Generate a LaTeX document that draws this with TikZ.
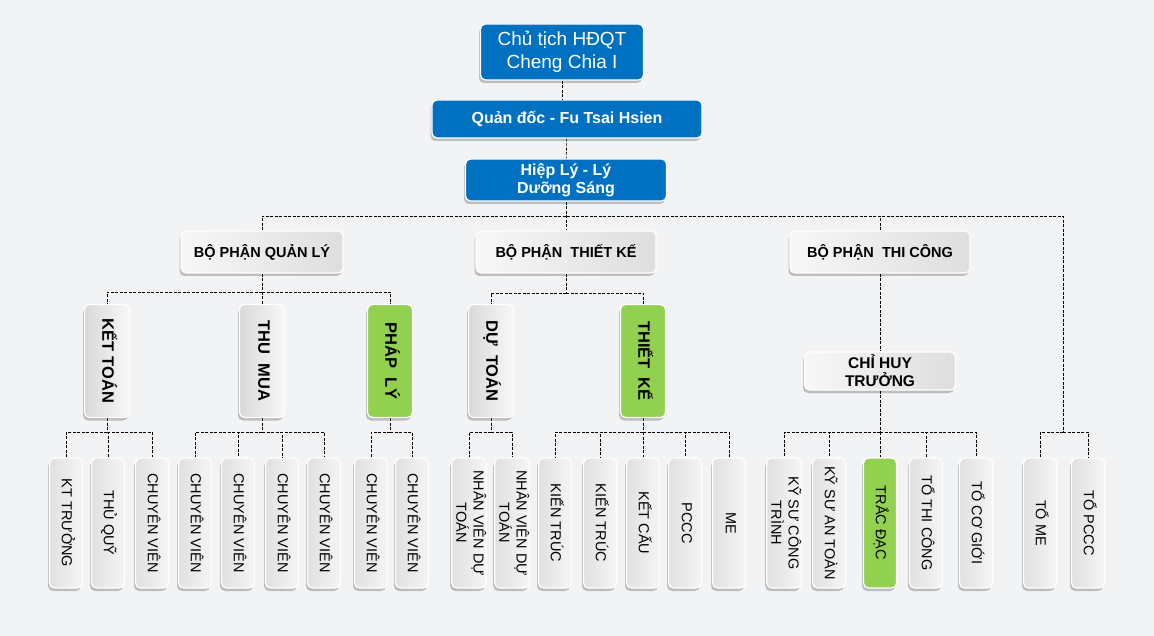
\documentclass[tikz,border=0pt]{standalone}
\usepackage{fontspec}
\setmainfont{Liberation Sans}
\usetikzlibrary{shadows}
\definecolor{bluebox}{HTML}{0070C0}
\definecolor{greenbox}{HTML}{92D050}
\definecolor{bgpage}{HTML}{F2F3F5}
\newcommand{\vlabel}[1]{\rotatebox{-90}{\begin{tabular}{@{}c@{}}#1\end{tabular}}}
\tikzset{
  box/.style={draw=white,line width=1.2pt,rounded corners=5pt,inner sep=2pt,
    drop shadow={shadow xshift=-1.5pt,shadow yshift=-3pt,opacity=.22,fill=black}},
  topbox/.style={box,fill=bluebox,text=white,align=center},
  deptbox/.style={box,left color=white!97!black,right color=white!87!black,align=center,
    minimum height=42pt,font=\bfseries\fontsize{14.5}{17}\selectfont},
  unitbox/.style={box,left color=white!85!black,right color=white!97!black,
    minimum width=45pt,minimum height=113pt,inner sep=0pt,font=\bfseries\fontsize{16.5}{18}\selectfont},
  leaf/.style={box,left color=white!88!black,right color=white!96!black,
    minimum width=33pt,minimum height=130pt,inner sep=0pt,font=\fontsize{14.5}{15.5}\selectfont},
  green/.style={left color=greenbox,right color=greenbox},
  link/.style={dash pattern=on 3pt off 1.5pt,line width=.6pt}
}

\begin{document}
\begin{tikzpicture}[x=1pt,y=-1pt]
\useasboundingbox (0,0) rectangle (1154,636);
\fill[bgpage] (0,0) rectangle (1154,636);
%%%%%%%%%%%%%%%% top
\node[topbox,minimum width=163pt,minimum height=56pt,font=\fontsize{19}{23}\selectfont] (ct) at (562,52) {Chủ tịch HĐQT\\Cheng Chia I};
\node[topbox,minimum width=270pt,minimum height=38pt,font=\bfseries\fontsize{16}{18}\selectfont] (qd) at (567,119) {Quản đốc - Fu Tsai Hsien};
\node[topbox,minimum width=201pt,minimum height=42pt,font=\bfseries\fontsize{16}{18}\selectfont] (hl) at (566,180) {Hiệp Lý - Lý\\Dưỡng Sáng};
%%%%%%%%%%%%%%%% departments
\node[deptbox,minimum width=162pt] (ql) at (262,252) {BỘ PHẬN QUẢN LÝ};
\node[deptbox,minimum width=180pt] (tk) at (566,252) {BỘ PHẬN\ \ THIẾT KẾ};
\node[deptbox,minimum width=180pt] (tc) at (880,252) {BỘ PHẬN\ \ THI CÔNG};
\node[deptbox,minimum width=151pt,minimum height=38pt,font=\bfseries\fontsize{15.5}{18}\selectfont] (cht) at (880,371) {CHỈ HUY\\TRƯỞNG};
%%%%%%%%%%%%%%%% units
\node[unitbox] (kto) at (107,361) {\vlabel{KẾT TOÁN}};
\node[unitbox] (tmu) at (262,361) {\vlabel{THU\ \ MUA}};
\node[unitbox,green] (pli) at (390,361) {\vlabel{PHÁP\ \ LÝ}};
\node[unitbox] (dto) at (491,361) {\vlabel{DỰ\ \ TOÁN}};
\node[unitbox,green] (tke) at (643,361) {\vlabel{THIẾT\ \ KẾ}};
%%%%%%%%%%%%%%%% staff
\node[leaf] (s1) at (66,523) {\vlabel{KT TRƯỞNG}};
\node[leaf] (s2) at (108,523) {\vlabel{THỦ QUỸ}};
\node[leaf] (s3) at (152,523) {\vlabel{CHUYÊN VIÊN}};
\node[leaf] (s4) at (195,523) {\vlabel{CHUYÊN VIÊN}};
\node[leaf] (s5) at (238,523) {\vlabel{CHUYÊN VIÊN}};
\node[leaf] (s6) at (282,523) {\vlabel{CHUYÊN VIÊN}};
\node[leaf] (s7) at (324,523) {\vlabel{CHUYÊN VIÊN}};
\node[leaf] (s8) at (371,523) {\vlabel{CHUYÊN VIÊN}};
\node[leaf] (s9) at (412,523) {\vlabel{CHUYÊN VIÊN}};
\node[leaf] (d1) at (469,523) {\vlabel{NHÂN VIÊN DỰ\\TOÁN}};
\node[leaf] (d2) at (512,523) {\vlabel{NHÂN VIÊN DỰ\\TOÁN}};
\node[leaf] (k1) at (555,523) {\vlabel{KIẾN TRÚC}};
\node[leaf] (k2) at (600,523) {\vlabel{KIẾN TRÚC}};
\node[leaf] (k3) at (643,523) {\vlabel{KẾT CẤU}};
\node[leaf] (k4) at (685,523) {\vlabel{PCCC}};
\node[leaf] (k5) at (729,523) {\vlabel{ME}};
\node[leaf] (c1) at (784,523) {\vlabel{KỸ SƯ CÔNG\\TRÌNH}};
\node[leaf] (c2) at (829,523) {\vlabel{KỸ SƯ AN TOÀN}};
\node[leaf,green] (c3) at (880,523) {\vlabel{TRẮC ĐẠC}};
\node[leaf] (c4) at (926,523) {\vlabel{TỔ THI CÔNG}};
\node[leaf] (c5) at (976,523) {\vlabel{TỔ CƠ GIỚI}};
\node[leaf] (t1) at (1040,523) {\vlabel{TỔ ME}};
\node[leaf] (t2) at (1088,523) {\vlabel{TỔ PCCC}};
%%%%%%%%%%%%%%%% connectors
\coordinate (bus) at (566,216);
\coordinate (split) at (1063,432);
\draw[link] (ct.south) -- (ct.south |- qd.north);
\draw[link] (qd) -- (hl);
\draw[link] (hl) -- (tk);
\draw[link] (ql) |- (split |- bus) -- (split);
\draw[link] (tc) -- (tc.north |- bus);
\draw[link] (tc) -- (cht);
\foreach \n in {t1,t2} \draw[link] (split) -| (\n);
% second level bars
\coordinate (qlbar) at (262,292);
\coordinate (tkbar) at (566,293);
\draw[link] (ql) -- (qlbar);
\draw[link] (tk) -- (tkbar);
\foreach \n in {kto,tmu,pli} \draw[link] (qlbar) -| (\n);
\foreach \n in {dto,tke} \draw[link] (tkbar) -| (\n);
% third level bars
\coordinate (ktbar) at (kto.south |- 0,432);
\coordinate (tmbar) at (tmu.south |- 0,432);
\coordinate (plbar) at (pli.south |- 0,432);
\coordinate (dtbar) at (dto.south |- 0,432);
\coordinate (tkebar) at (tke.south |- 0,432);
\coordinate (chtbar) at (cht.south |- 0,432);
\draw[link] (kto) -- (ktbar);
\draw[link] (tmu) -- (tmbar);
\draw[link] (pli) -- (plbar);
\draw[link] (dto) -- (dtbar);
\draw[link] (tke) -- (tkebar);
\draw[link] (cht) -- (chtbar);
\foreach \n in {s1,s2,s3} \draw[link] (ktbar) -| (\n);
\foreach \n in {s4,s5,s6,s7} \draw[link] (tmbar) -| (\n);
\foreach \n in {s8,s9} \draw[link] (plbar) -| (\n);
\foreach \n in {d1,d2} \draw[link] (dtbar) -| (\n);
\foreach \n in {k1,k2,k3,k4,k5} \draw[link] (tkebar) -| (\n);
\foreach \n in {c1,c2,c3,c4,c5} \draw[link] (chtbar) -| (\n);
\end{tikzpicture}
\end{document}
